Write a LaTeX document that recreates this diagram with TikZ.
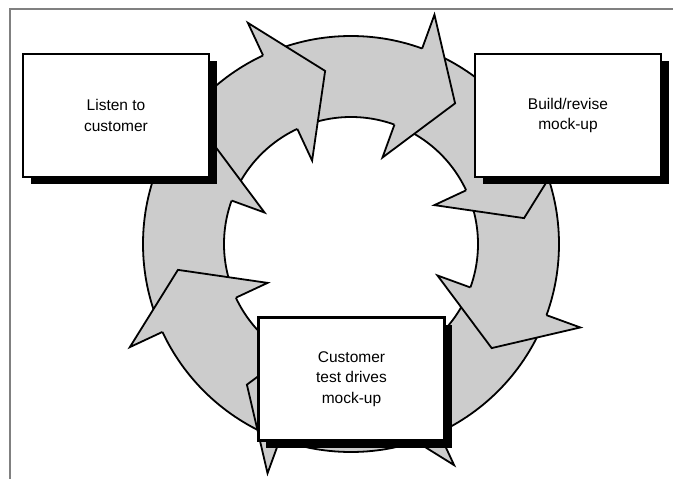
\documentclass[tikz,border=0pt]{standalone}
\usepackage{fontspec}
\setmainfont{Liberation Sans}
\usetikzlibrary{shadows}
\definecolor{ringgray}{RGB}{204,204,204}
\definecolor{framegray}{RGB}{128,128,128}
\begin{document}
\begin{tikzpicture}[x=1pt,y=-1pt,
  edgeline/.style={draw=black, line width=1.8pt, line join=miter},
  box/.style={draw=black, line width=2.4pt, fill=white, minimum width=186pt,
    minimum height=123pt, align=center, inner sep=0pt,
    font=\fontsize{15.5pt}{20.5pt}\selectfont,
    drop shadow={shadow xshift=7.5pt, shadow yshift=-7pt, fill=black, opacity=1}}
]
\useasboundingbox (0,0) rectangle (673,479);
\fill[white] (0,0) rectangle (673,479);
\draw[framegray, line width=2pt] (9.5,479) -- (9.5,8.5) -- (673,8.5);
\begin{scope}[shift={(351,244)}, yscale=-1]
  \fill[ringgray, even odd rule] (0,0) circle[radius=208pt] (0,0) circle[radius=127pt];
  \draw[edgeline] (0,0) circle[radius=208pt];
  \draw[edgeline] (0,0) circle[radius=127pt];
  \foreach \a in {340,25,70,115,160,205,250,295}{
    \fill[ringgray] (\a:208) -- (\a:244) -- (\a-16.5:175) -- (\a:92) -- (\a:127) -- cycle;
    \draw[edgeline] (\a:208) -- (\a:244) -- (\a-16.5:175) -- (\a:92) -- (\a:127);
  }
\end{scope}
\node[box] (listen) at (116,115.5) {Listen to\\customer};
\node[box] (build) at (568,115.5) {Build/revise\\mock-up};
\node[box] (test) at (351.5,379) {Customer\\test drives\\mock-up};
\end{tikzpicture}
\end{document}
